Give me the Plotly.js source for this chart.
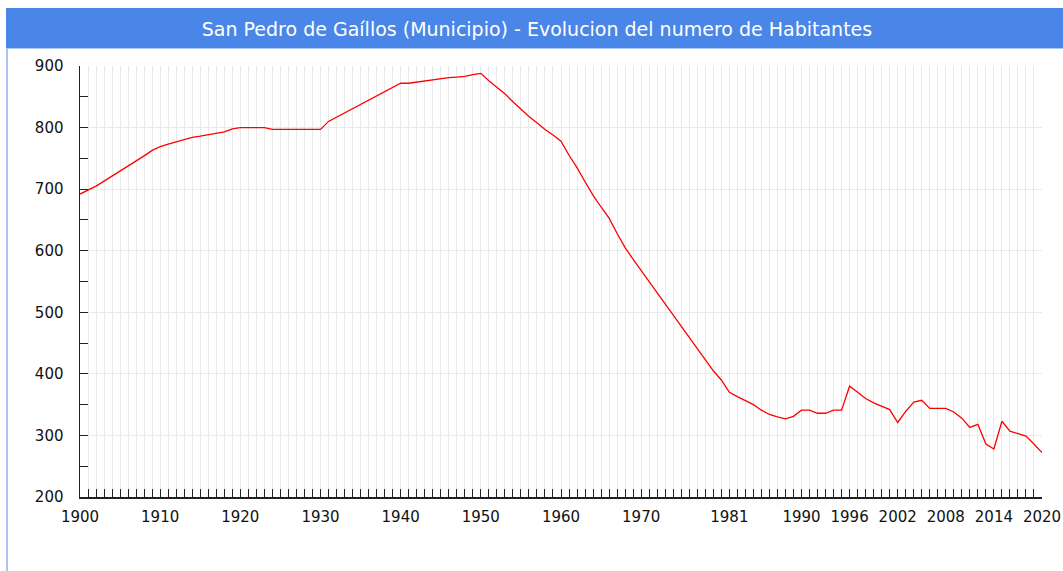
<!DOCTYPE html>
<html>
<head>
<meta charset="utf-8">
<script src="https://cdn.plot.ly/plotly-3.0.1.min.js"></script>
<style>
  html, body { margin: 0; padding: 0; background: #ffffff; }
  #chart { width: 1063px; height: 571px; }
</style>
</head>
<body>
<div id="chart"></div>
<script>
const chartTitle = "San Pedro de Gaíllos (Municipio) - Evolucion del numero de Habitantes";

const years = [
  1900,1901,1902,1903,1904,1905,1906,1907,1908,1909,
  1910,1911,1912,1913,1914,1915,1916,1917,1918,1919,
  1920,1921,1922,1923,1924,1925,1926,1927,1928,1929,
  1930,1931,1932,1933,1934,1935,1936,1937,1938,1939,
  1940,1941,1942,1943,1944,1945,1946,1947,1948,1949,
  1950,1951,1952,1953,1954,1955,1956,1957,1958,1959,
  1960,1961,1962,1963,1964,1965,1966,1967,1968,1969,
  1970,1971,1972,1973,1974,1975,1976,1977,1978,1979,
  1980,1981,1982,1983,1984,1985,1986,1987,1988,1989,
  1990,1991,1992,1993,1994,1995,1996,1997,1998,1999,
  2000,2001,2002,2003,2004,2005,2006,2007,2008,2009,
  2010,2011,2012,2013,2014,2015,2016,2017,2018,2019,
  2020
];

const habitantes = [
  692,698,705,713,721,729,737,746,754,763,
  769,773,777,781,784,786,788,790,793,798,
  800,800,800,800,797,797,797,797,797,797,
  797,810,817,823,830,838,845,851,858,865,
  872,872,874,875,878,880,881,882,883,886,
  888,876,866,855,842,830,818,808,797,788,
  778,755,735,712,690,671,653,628,605,586,
  568,550,532,514,496,477,459,442,424,405,
  390,370,363,357,350,341,334,330,327,331,
  341,341,336,336,341,341,380,370,360,353,
  348,342,321,339,354,357,344,344,344,338,
  328,313,318,286,278,323,307,303,299,286,
  272
];

const xTickYears = [1900,1910,1920,1930,1940,1950,1960,1970,1981,1990,1996,2002,2008,2014,2020];
const xTickLabels = ["1900","1910","1920","1930","1940","1950","1960","1970","1981","1990","1996","2002","2008","2014","2020"];
const yTickValues = [200,300,400,500,600,700,800,900];

// pixel layout helpers (plot area 80..1042 x 66..497)
const W = 1063, H = 571;
const mL = 80, mR = 21, mT = 66, mB = 74;
const pw = W - mL - mR, ph = H - mT - mB;
const px = x => (x - mL) / pw;
const py = y => (H - mB - y) / ph;

const trace = {
  x: years,
  y: habitantes,
  type: 'scatter',
  mode: 'lines',
  line: { color: '#ff0000', width: 1.3 },
  hoverinfo: 'x+y'
};

const axisFont = { family: 'DejaVu Sans, Verdana, sans-serif', size: 15, color: '#111111' };

const layout = {
  width: W,
  height: H,
  margin: { l: mL, r: mR, t: mT, b: mB, pad: 0 },
  paper_bgcolor: '#ffffff',
  plot_bgcolor: '#ffffff',
  showlegend: false,
  title: {
    text: chartTitle,
    font: { family: 'DejaVu Sans, Verdana, sans-serif', size: 19, color: '#ffffff' },
    xref: 'container', yref: 'container',
    x: 537 / W, xanchor: 'center',
    y: 1 - 29 / H, yanchor: 'middle'
  },
  xaxis: {
    type: 'linear',
    range: [1900, 2020],
    tickmode: 'array',
    tickvals: xTickYears,
    ticktext: xTickLabels,
    ticks: 'inside',
    ticklen: 8,
    tickwidth: 1,
    tickcolor: '#222222',
    tickfont: axisFont,
    ticklabelstandoff: 5,
    showline: true,
    linecolor: '#222222',
    linewidth: 2,
    showgrid: true,
    gridcolor: '#e9e9e9',
    gridwidth: 1,
    zeroline: false,
    minor: {
      dtick: 1,
      tick0: 1900,
      ticks: 'inside',
      ticklen: 8,
      tickwidth: 1,
      tickcolor: '#222222',
      showgrid: true,
      gridcolor: '#e9e9e9',
      gridwidth: 1
    },
    fixedrange: true
  },
  yaxis: {
    range: [200, 900],
    tickmode: 'array',
    tickvals: yTickValues,
    ticks: 'inside',
    ticklen: 8,
    tickwidth: 1,
    tickcolor: '#222222',
    tickfont: axisFont,
    ticklabelstandoff: 12,
    showline: true,
    linecolor: '#222222',
    linewidth: 1.5,
    showgrid: true,
    gridcolor: '#e9e9e9',
    gridwidth: 1,
    zeroline: false,
    minor: {
      dtick: 50,
      tick0: 200,
      ticks: 'inside',
      ticklen: 8,
      tickwidth: 1,
      tickcolor: '#222222',
      showgrid: false
    },
    fixedrange: true
  },
  shapes: [
    { type: 'rect', xref: 'paper', yref: 'paper', layer: 'below',
      x0: px(6), x1: px(W + 2), y0: py(48), y1: py(8),
      fillcolor: '#4a86e8', line: { width: 0 } },
    { type: 'line', xref: 'paper', yref: 'paper', layer: 'below',
      x0: px(7), x1: px(7), y0: py(48), y1: py(H + 2),
      line: { color: '#8db2f0', width: 1.5 } },
    { type: 'line', xref: 'paper', yref: 'paper', layer: 'below',
      x0: px(6), x1: px(W + 2), y0: py(48.5), y1: py(48.5),
      line: { color: '#a9c6f4', width: 1 } }
  ]
};

Plotly.newPlot('chart', [trace], layout, { displayModeBar: false, staticPlot: true });
</script>
</body>
</html>
